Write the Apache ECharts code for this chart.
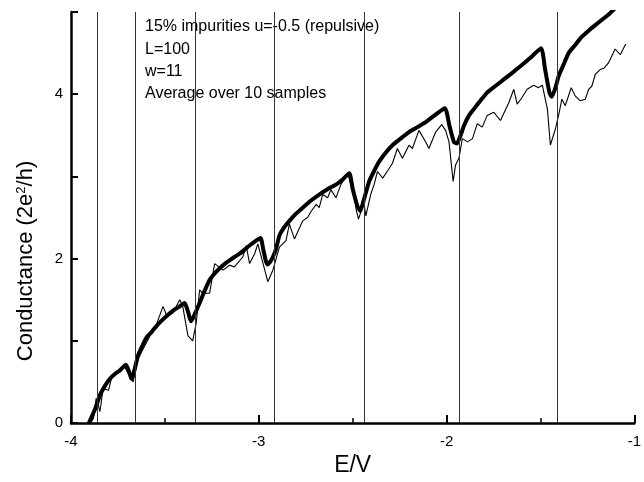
<!DOCTYPE html>
<html>
<head>
<meta charset="utf-8">
<script src="https://cdn.jsdelivr.net/npm/echarts@6/dist/echarts.min.js"></script>
<style>html,body{margin:0;padding:0;background:#fff;}#c{width:644px;height:482px;}</style>
</head>
<body>
<div id="c"></div>
<script>
// Energies of the transverse-mode thresholds (vertical lines)
const thresholds = [-3.857, -3.657, -3.339, -2.925, -2.443, -1.925, -1.407];

// Thick curve (E, G)
const thickCurve = [
[-3.905,0],[-3.87,0.18],[-3.846,0.34],[-3.82,0.45],[-3.793,0.54],[-3.765,0.60],[-3.74,0.64],[-3.708,0.71],
[-3.690,0.62],[-3.678,0.54],[-3.665,0.62],[-3.643,0.82],[-3.62,0.94],[-3.598,1.04],[-3.57,1.11],[-3.545,1.18],
[-3.52,1.24],[-3.492,1.30],[-3.455,1.37],[-3.421,1.42],[-3.395,1.46],[-3.375,1.34],[-3.362,1.24],[-3.350,1.28],
[-3.315,1.46],[-3.29,1.60],[-3.262,1.74],[-3.235,1.82],[-3.209,1.88],[-3.18,1.94],[-3.156,1.98],[-3.13,2.02],
[-3.102,2.06],[-3.075,2.11],[-3.049,2.16],[-3.02,2.21],[-2.991,2.25],[-2.975,2.10],[-2.955,1.93],[-2.94,1.96],
[-2.925,2.02],[-2.908,2.12],[-2.89,2.28],[-2.865,2.38],[-2.837,2.46],[-2.80,2.55],[-2.766,2.62],[-2.72,2.71],
[-2.678,2.78],[-2.63,2.85],[-2.589,2.90],[-2.55,2.97],[-2.518,3.04],[-2.50,2.85],[-2.475,2.64],[-2.46,2.58],
[-2.44,2.72],[-2.412,2.94],[-2.385,3.07],[-2.359,3.18],[-2.32,3.30],[-2.288,3.38],[-2.245,3.46],[-2.2,3.54],
[-2.155,3.60],[-2.111,3.66],[-2.06,3.75],[-2.009,3.83],[-1.985,3.62],[-1.961,3.42],[-1.945,3.40],[-1.925,3.50],
[-1.907,3.62],[-1.881,3.74],[-1.854,3.82],[-1.82,3.92],[-1.784,4.02],[-1.74,4.10],[-1.695,4.18],[-1.65,4.26],
[-1.607,4.34],[-1.55,4.45],[-1.497,4.56],[-1.475,4.30],[-1.452,4.02],[-1.44,3.97],[-1.42,4.08],[-1.403,4.22],
[-1.375,4.37],[-1.35,4.50],[-1.315,4.60],[-1.279,4.70],[-1.245,4.77],[-1.208,4.84],[-1.17,4.91],[-1.132,4.98],
[-1.10,5.05],[-1.0,5.2]
];

// Thin curve (E, G)
const thinCurve = [
[-3.895,0],[-3.88,0.06],[-3.866,0.30],[-3.855,0.22],[-3.846,0.14],[-3.829,0.42],[-3.80,0.40],[-3.785,0.54],
[-3.74,0.64],[-3.713,0.68],[-3.686,0.56],[-3.669,0.50],[-3.643,0.78],[-3.616,0.90],[-3.58,1.06],[-3.545,1.20],
[-3.51,1.42],[-3.489,1.30],[-3.457,1.34],[-3.421,1.50],[-3.405,1.42],[-3.377,1.06],[-3.352,1.00],[-3.333,1.22],
[-3.315,1.62],[-3.30,1.58],[-3.262,1.58],[-3.235,1.94],[-3.19,1.86],[-3.156,1.92],[-3.13,1.90],[-3.085,2.02],
[-3.067,2.16],[-3.049,1.94],[-3.022,2.06],[-3.005,2.18],[-2.968,1.86],[-2.952,1.72],[-2.925,1.86],[-2.89,2.14],
[-2.855,2.22],[-2.837,2.42],[-2.81,2.24],[-2.766,2.46],[-2.74,2.50],[-2.72,2.58],[-2.694,2.66],[-2.678,2.62],
[-2.66,2.78],[-2.633,2.74],[-2.616,2.84],[-2.589,2.74],[-2.563,2.90],[-2.527,3.04],[-2.49,2.75],[-2.48,2.58],
[-2.469,2.48],[-2.44,2.68],[-2.43,2.52],[-2.404,2.78],[-2.386,2.90],[-2.368,3.06],[-2.34,2.98],[-2.305,3.10],
[-2.288,3.16],[-2.262,3.34],[-2.235,3.22],[-2.2,3.38],[-2.182,3.34],[-2.147,3.56],[-2.111,3.42],[-2.094,3.34],
[-2.058,3.54],[-2.026,3.63],[-2.005,3.56],[-1.987,3.42],[-1.965,2.94],[-1.952,3.14],[-1.934,3.22],[-1.916,3.46],
[-1.888,3.42],[-1.862,3.46],[-1.837,3.64],[-1.81,3.60],[-1.784,3.74],[-1.748,3.78],[-1.713,3.68],[-1.668,3.90],
[-1.642,4.06],[-1.624,3.88],[-1.598,3.96],[-1.571,4.06],[-1.536,4.11],[-1.51,4.08],[-1.49,4.11],[-1.463,3.82],
[-1.447,3.38],[-1.42,3.58],[-1.4,3.78],[-1.386,3.94],[-1.368,3.86],[-1.336,4.08],[-1.315,3.98],[-1.288,3.92],
[-1.261,3.94],[-1.243,4.06],[-1.226,4.10],[-1.208,4.24],[-1.182,4.30],[-1.16,4.32],[-1.138,4.38],[-1.102,4.55],
[-1.075,4.48],[-1.046,4.61]
];

const annotations = ["15% impurities u=-0.5 (repulsive)", "L=100", "w=11", "Average over 10 samples"];
const xTicks = [-4, -3, -2, -1];
const yTickLabels = [0, 2, 4];

const font = '"Liberation Sans", Arial, sans-serif';
const chart = echarts.init(document.getElementById('c'), null, {renderer: 'canvas'});
chart.setOption({
  animation: false,
  backgroundColor: '#fff',
  grid: {left: 71, right: 8, top: 12, bottom: 54},
  xAxis: {
    type: 'value', min: -4, max: -1, interval: 1,
    name: 'E/V', nameLocation: 'middle', nameGap: 27,
    nameTextStyle: {fontFamily: font, fontSize: 23, color: '#000'},
    axisLine: {show: true, onZero: false, lineStyle: {color: '#000', width: 2.5}},
    axisTick: {show: true, inside: true, length: 8, lineStyle: {color: '#000', width: 2}},
    minorTick: {show: true, splitNumber: 2, length: 5, lineStyle: {color: '#000', width: 1.5}},
    axisLabel: {fontFamily: font, fontSize: 15, color: '#000', margin: 11,
      formatter: v => xTicks.indexOf(v) >= 0 ? String(v) : ''},
    splitLine: {show: false}, minorSplitLine: {show: false}
  },
  yAxis: {
    type: 'value', min: 0, max: 5, interval: 1,
    axisLine: {show: true, onZero: false, lineStyle: {color: '#000', width: 2.5}},
    axisTick: {show: true, inside: true, length: 7, lineStyle: {color: '#000', width: 2}},
    axisLabel: {fontFamily: font, fontSize: 15, color: '#000', margin: 8,
      formatter: v => yTickLabels.indexOf(v) >= 0 ? String(v) : ''},
    splitLine: {show: false}
  },
  graphic: annotations.map((t, i) => ({
    type: 'text', left: 145, top: 19 + i * 22.3, silent: true,
    style: {text: t, fontFamily: font, fontSize: 16, fill: '#000'}
  })).concat([{
    type: 'text', x: 26, y: 261, rotation: Math.PI / 2, silent: true,
    style: {
      text: '{a|Conductance (2e}{s|2}{a|/h)}', align: 'center', verticalAlign: 'middle',
      rich: {
        a: {fontFamily: font, fontSize: 22, fill: '#000'},
        s: {fontFamily: font, fontSize: 13, fill: '#000', verticalAlign: 'top', padding: [0, 0, 9, 0]}
      }
    }
  }]),
  series: [
    {
      type: 'line', data: thinCurve, showSymbol: false, symbol: 'none', smooth: false,
      lineStyle: {color: '#000', width: 1.1}, z: 3,
      markLine: {
        silent: true, symbol: 'none', animation: false,
        label: {show: false},
        lineStyle: {color: '#333', width: 1, type: 'solid'},
        data: thresholds.map(v => ({xAxis: v}))
      }
    },
    {
      type: 'line', data: thickCurve, showSymbol: false, symbol: 'none', smooth: 0.2,
      lineStyle: {color: '#000', width: 4}, z: 4
    }
  ]
});
</script>
</body>
</html>
